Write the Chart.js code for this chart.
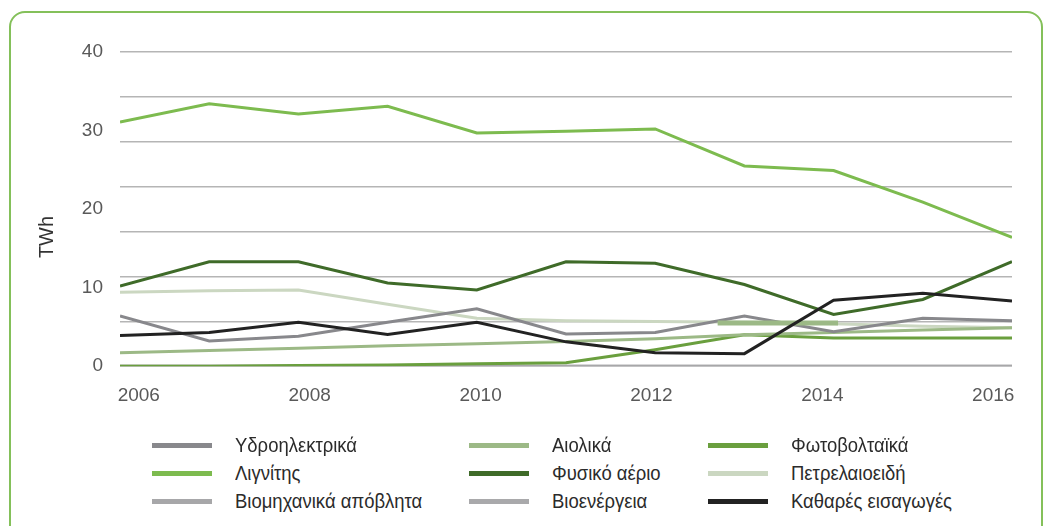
<!DOCTYPE html>
<html>
<head>
<meta charset="utf-8">
<script src="https://cdn.jsdelivr.net/npm/chart.js@4.4.1/dist/chart.umd.min.js"></script>
<style>
  html, body { margin: 0; padding: 0; background: #fff; width: 1044px; height: 526px; overflow: hidden; }
  #frame { position: absolute; left: 9px; top: 11px; width: 1034px; height: 600px; box-sizing: border-box;
           border: 2.5px solid #84c05a; border-radius: 16px; }
  #chart { position: absolute; left: 0; top: 0; }
  #legend { position: absolute; left: 0; top: 0; font-family: "Liberation Sans", sans-serif;
            font-size: 21px; color: #2b2b2b; }
  .item { position: absolute; height: 28px; display: flex; align-items: center; white-space: nowrap; }
  .swatch { width: 60px; height: 5px; margin-right: 23px; flex: none; }
  .name { display: inline-block; transform: scaleX(0.88); transform-origin: 0 50%; }
</style>
</head>
<body>
<div id="frame"></div>
<canvas id="chart" width="1044" height="440"></canvas>
<div id="legend"></div>
<script>
// years on the x axis and the labelled ones
var years = [2006, 2007, 2008, 2009, 2010, 2011, 2012, 2013, 2014, 2015, 2016];
var yearLabels = [2006, 2008, 2010, 2012, 2014, 2016];
var valueTicks = [0, 10, 20, 30, 40];

// TWh per source
var hydro      = [6.4, 3.2, 3.8, 5.6, 7.3, 4.1, 4.3, 6.4, 4.4, 6.1, 5.8];
var wind       = [1.7, 2.0, 2.3, 2.6, 2.85, 3.15, 3.5, 4.0, 4.3, 4.6, 4.9];
var solar      = [0.0, 0.0, 0.1, 0.15, 0.3, 0.45, 2.1, 4.0, 3.6, 3.6, 3.6];
var lignite    = [31.1, 33.4, 32.1, 33.1, 29.7, 29.9, 30.2, 25.5, 24.9, 20.9, 16.4];
var gas        = [10.2, 13.3, 13.3, 10.6, 9.7, 13.3, 13.1, 10.4, 6.6, 8.5, 13.3];
var oil        = [9.4, 9.6, 9.7, 7.9, 6.1, 5.8, 5.7, 5.6, 5.4, 5.1, 4.9];
var industrial = [0, 0, 0, 0, 0, 0, 0, 0, 0, 0, 0];
var bioenergy  = [0, 0, 0, 0, 0, 0, 0, 0, 0, 0, 0];
var imports    = [3.9, 4.3, 5.6, 4.05, 5.6, 3.1, 1.7, 1.6, 8.4, 9.3, 8.3];

// short unlabelled stroke that sits over the 2013-2014 cluster
var strayX = [2012.7, 2014.05];
var strayY = [5.5, 5.5];

var names = ['Υδροηλεκτρικά', 'Αιολικά', 'Φωτοβολταϊκά', 'Λιγνίτης', 'Φυσικό αέριο', 'Πετρελαιοειδή',
             'Βιομηχανικά απόβλητα', 'Βιοενέργεια', 'Καθαρές εισαγωγές'];
var colors = ['#88888c', '#9cb986', '#6a9f3e', '#7dbb4f', '#3f6b29', '#cbd7c1', '#a7a7a9', '#a9a9ab', '#222222'];
var values = [hydro, wind, solar, lignite, gas, oil, industrial, bioenergy, imports];
var layer  = [3, 4, 5, 2, 1, 6, 8, 8, 0];

function points(xs, ys) {
  return xs.map(function(x, i) { return { x: x, y: ys[i] }; });
}

var datasets = names.map(function(name, i) {
  return {
    label: name,
    data: points(years, values[i]),
    borderColor: colors[i],
    backgroundColor: colors[i],
    borderWidth: 3,
    pointRadius: 0,
    tension: 0,
    order: layer[i]
  };
});
datasets.push({
  label: '',
  data: points(strayX, strayY),
  borderColor: '#9cb986',
  borderWidth: 5,
  pointRadius: 0,
  order: 1
});

var tickFont = { family: '"Liberation Sans", sans-serif', size: 19 };

// the unit label sits a little below the middle of the axis
var unitLabel = {
  id: 'unitLabel',
  afterDraw: function(chart) {
    var ctx = chart.ctx;
    ctx.save();
    ctx.translate(47, 237);
    ctx.rotate(-Math.PI / 2);
    ctx.font = '20px "Liberation Sans", sans-serif';
    ctx.fillStyle = '#333';
    ctx.textAlign = 'center';
    ctx.textBaseline = 'middle';
    ctx.fillText('TWh', 0, 0);
    ctx.restore();
  }
};

var chart = new Chart(document.getElementById('chart'), {
  type: 'line',
  data: { datasets: datasets },
  options: {
    responsive: false,
    animation: false,
    layout: { padding: { top: 52, right: 32, bottom: 15, left: 0 } },
    plugins: { legend: { display: false }, tooltip: { enabled: false } },
    scales: {
      x: { type: 'linear', min: 2006, max: 2016, display: false },
      xl: {
        type: 'linear', position: 'bottom', min: 2005.78, max: 2016.22,
        grid: { display: false, drawTicks: false },
        border: { display: false },
        afterBuildTicks: function(s) { s.ticks = yearLabels.map(function(v) { return { value: v }; }); },
        ticks: { padding: 18, color: '#595959', font: tickFont, maxRotation: 0,
                 callback: function(v) { return String(v); } }
      },
      y: {
        type: 'linear', position: 'left', min: 0, max: 40,
        border: { display: false },
        grid: { color: '#b5b5b5', lineWidth: 1.5, drawTicks: false },
        ticks: { display: false },
        afterBuildTicks: function(s) {
          var t = [];
          for (var k = 0; k <= 7; k++) t.push({ value: 40 * k / 7 });
          s.ticks = t;
        },
        afterFit: function(s) { s.width = 0; }
      },
      yl: {
        type: 'linear', position: 'left', min: 0, max: 40,
        border: { display: false },
        grid: { display: false, drawTicks: false },
        afterBuildTicks: function(s) { s.ticks = valueTicks.map(function(v) { return { value: v }; }); },
        ticks: { padding: 17, color: '#595959', font: tickFont },
        afterFit: function(s) { s.width = 120; }
      }
    }
  },
  plugins: [unitLabel]
});

// legend in three columns, built from the chart's datasets
var colLeft = [152, 469, 708];
var rowTop = [431, 459, 487];
var legend = document.getElementById('legend');
chart.data.datasets.forEach(function(ds, i) {
  if (!ds.label) return;
  var item = document.createElement('div');
  item.className = 'item';
  item.style.left = colLeft[i % 3] + 'px';
  item.style.top = rowTop[Math.floor(i / 3)] + 'px';
  var sw = document.createElement('span');
  sw.className = 'swatch';
  sw.style.background = ds.borderColor;
  var tx = document.createElement('span');
  tx.className = 'name';
  tx.textContent = ds.label;
  item.appendChild(sw);
  item.appendChild(tx);
  legend.appendChild(item);
});
</script>
</body>
</html>
